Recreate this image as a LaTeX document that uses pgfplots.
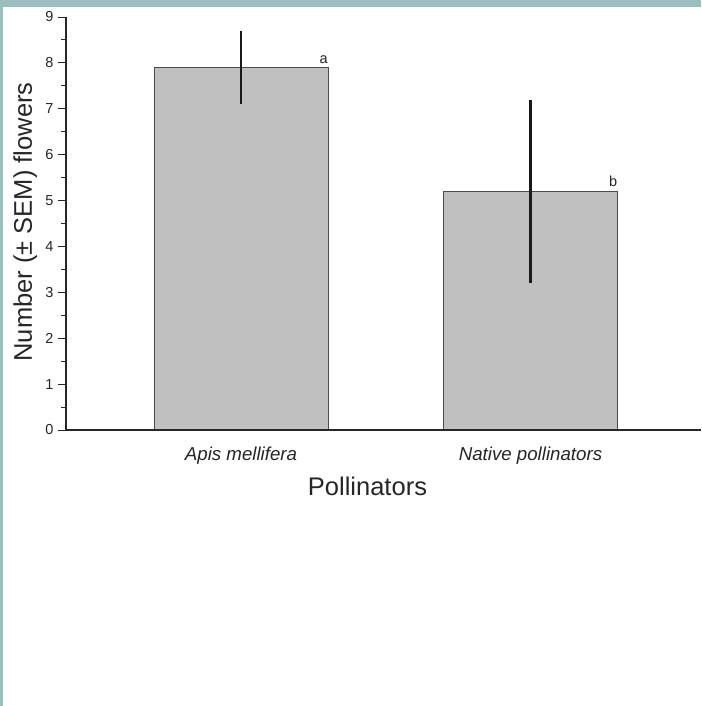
\documentclass[border=0pt]{standalone}
\usepackage{pgfplots}
\pgfplotsset{compat=1.18}
\usepackage{fontspec}
\setmainfont{Liberation Sans}
\definecolor{frameteal}{HTML}{9CBFBE}
\definecolor{barfill}{HTML}{C0C0C0}
\begin{document}
\begin{tikzpicture}[x=1pt,y=1pt]
\useasboundingbox (-66,-276) rectangle (635,430);
\fill[white] (-66,-276) rectangle (635,430);
\fill[frameteal] (-66,423) rectangle (635,430);
\fill[frameteal] (-66,-276) rectangle (-63,430);
\begin{axis}[
  at={(0pt,0pt)}, anchor=south west,
  scale only axis, width=635pt, height=413pt,
  xmin=0.3955, xmax=2.589, ymin=0, ymax=9,
  axis lines*=left,
  axis line style={line width=1.6pt, color=black!85},
  axis on top,
  clip=false,
  /pgf/number format/assume math mode=true,
  ytick={0,1,...,9}, minor y tick num=1,
  tick align=outside,
  major tick length=8pt, minor tick length=5pt,
  y tick style={line width=1pt, black!85},
  xtick={1,2}, xticklabels={Apis mellifera, Native pollinators},
  x tick style={draw=none},
  xticklabel style={font=\fontsize{18.7}{20}\selectfont\itshape, color=black!85, anchor=base, yshift=-22pt},
  yticklabel style={font=\fontsize{14.5}{16}\selectfont, color=black!85, xshift=-1pt},
  ylabel={Number (\textpm{} SEM) flowers},
  ylabel style={font=\fontsize{25.5}{28}\selectfont, color=black!85, at={(axis description cs:0,0.5036)}, anchor=base, yshift=34pt},
  xlabel={Pollinators},
  xlabel style={font=\fontsize{25.5}{28}\selectfont, color=black!85, at={(axis description cs:0.4748,0)}, anchor=base, yshift=-65pt},
]
\addplot[ybar, bar width=174pt, fill=barfill, draw=black!70, line width=0.9pt,
  error bars/.cd, y dir=both, y explicit,
  error bar style={line width=2.4pt, black!90}, error mark=none]
  coordinates {(1,7.9) +- (0,0.8) (2,5.2) +- (0,2.0)};
\node[anchor=base east, font=\fontsize{14.5}{16}\selectfont, color=black!85, inner sep=0pt] at (axis cs:1.3,7.9) [yshift=4pt] {a};
\node[anchor=base east, font=\fontsize{14.5}{16}\selectfont, color=black!85, inner sep=0pt] at (axis cs:2.3,5.2) [yshift=5pt] {b};
\end{axis}
\end{tikzpicture}
\end{document}
